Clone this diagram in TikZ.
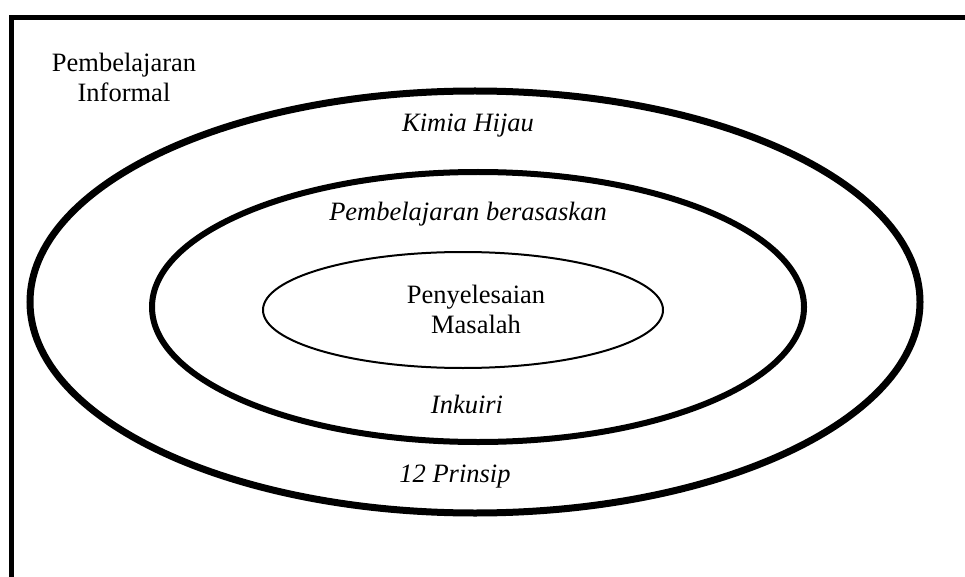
\documentclass[tikz,border=0pt]{standalone}
\usepackage{fontspec}
\setmainfont{Liberation Serif}
\tikzset{
  txt/.style={font=\fontsize{26.5}{30}\selectfont, align=center, inner sep=0pt},
  itxt/.style={txt, font=\fontsize{26.5}{30}\selectfont\itshape}
}
\begin{document}
\begin{tikzpicture}[x=1pt, y=-1pt]
            \useasboundingbox (0,0) rectangle (965,577);
            \draw[line width=5pt] (11,577) -- (11,17.5) -- (965,17.5);
            \draw[line width=7pt] (475,302) ellipse (445 and 211);
            \draw[line width=6pt] (478,307) ellipse (326 and 135);
            \draw[line width=2pt] (463,310) ellipse (200 and 58);
            \node[txt] (informal) at (124,77) {Pembelajaran\\Informal};
            \node[itxt] (kimia) at (468,126) {Kimia Hijau};
            \node[itxt] (berasas) at (468,214) {Pembelajaran berasaskan};
            \node[txt] (masalah) at (476,309) {Penyelesaian\\Masalah};
            \node[itxt] (inkuiri) at (467,404) {Inkuiri};
            \node[itxt] (prinsip) at (455,477) {12 Prinsip};
        \end{tikzpicture}
\end{document}
